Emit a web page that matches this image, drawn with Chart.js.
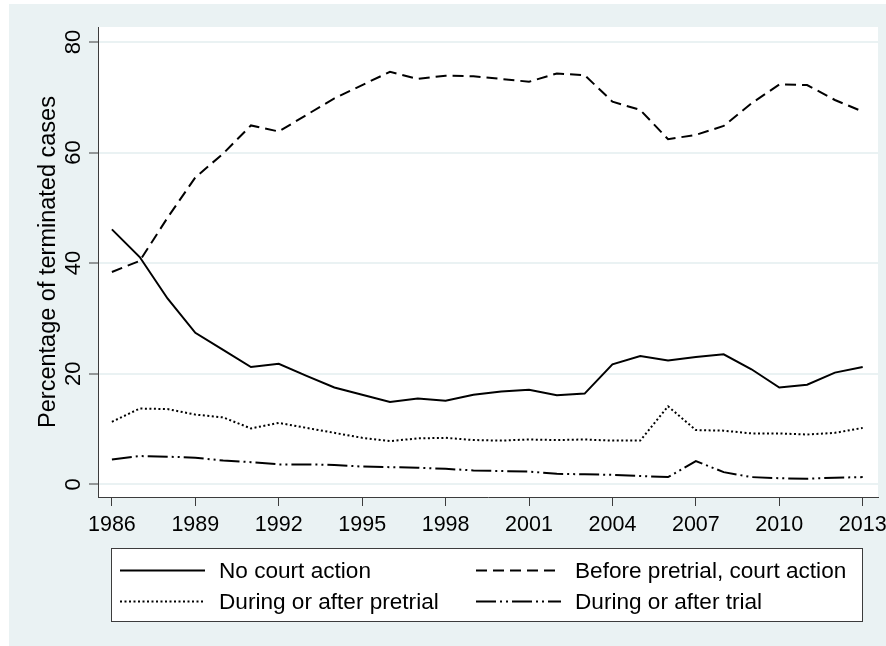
<!DOCTYPE html>
<html>
<head>
<meta charset="utf-8">
<script src="https://cdn.jsdelivr.net/npm/chart.js@4"></script>
<style>
  html, body { margin: 0; padding: 0; background: #fff; }
</style>
</head>
<body>
<canvas id="chart" width="886" height="646"></canvas>
<script>
const years = [1986, 1987, 1988, 1989, 1990, 1991, 1992, 1993, 1994, 1995, 1996, 1997, 1998, 1999,
               2000, 2001, 2002, 2003, 2004, 2005, 2006, 2007, 2008, 2009, 2010, 2011, 2012, 2013]
const noCourtAction = [46.1, 41.1, 33.6, 27.4, 24.3, 21.2, 21.8, 19.6, 17.5, 16.2, 14.9, 15.5, 15.1, 16.2,
                       16.8, 17.1, 16.1, 16.4, 21.7, 23.2, 22.4, 23.0, 23.5, 20.8, 17.5, 18.0, 20.2, 21.2]
const beforePretrial = [38.4, 40.4, 48.2, 55.5, 59.8, 64.9, 63.8, 66.8, 69.8, 72.2, 74.6, 73.3, 73.9, 73.8,
                        73.3, 72.8, 74.3, 74.0, 69.2, 67.7, 62.4, 63.2, 64.8, 68.9, 72.3, 72.2, 69.5, 67.4]
const duringPretrial = [11.3, 13.7, 13.6, 12.6, 12.1, 10.1, 11.1, 10.2, 9.3, 8.4, 7.8, 8.3, 8.4, 8.0,
                        7.9, 8.1, 8.0, 8.1, 7.9, 7.9, 14.1, 9.8, 9.7, 9.2, 9.2, 9.0, 9.3, 10.2]
const duringTrial = [4.5, 5.1, 5.0, 4.8, 4.3, 4.0, 3.6, 3.6, 3.5, 3.2, 3.1, 3.0, 2.8, 2.5,
                     2.4, 2.3, 1.9, 1.8, 1.7, 1.5, 1.3, 4.2, 2.2, 1.3, 1.1, 1.0, 1.2, 1.3]
const seriesNames = ['No court action', 'Before pretrial, court action', 'During or after pretrial', 'During or after trial']
const xTicks = [1986, 1989, 1992, 1995, 1998, 2001, 2004, 2007, 2010, 2013]
const yTicks = [0, 20, 40, 60, 80]
const yTitle = 'Percentage of terminated cases'

const bgColor = '#eaf2f3'
const axisColor = '#3c3c3c'
const fontFamily = '"Liberation Sans", Arial, Helvetica, sans-serif'

function points(values) {
    return years.map((yr, i) => ({ x: yr, y: values[i] }))
}

function makeDataset(label, values, dash) {
    return {
        label: label,
        data: points(values),
        borderColor: '#000',
        borderWidth: 2,
        borderDash: dash,
        borderCapStyle: 'butt',
        pointRadius: 0,
        tension: 0,
        fill: false
    }
}

// background, y labels, title and the boxed legend drawn stata-style
const stataFrame = {
    id: 'stataFrame',
    beforeDraw(chart) {
        const ctx = chart.ctx
        const a = chart.chartArea
        ctx.save()
        ctx.fillStyle = '#fff'
        ctx.fillRect(0, 0, chart.width, chart.height)
        ctx.fillStyle = bgColor
        ctx.fillRect(9, 4, chart.width - 9, chart.height - 4)
        ctx.fillStyle = '#fff'
        ctx.fillRect(a.left, a.top, a.right - a.left, a.bottom - a.top)
        ctx.restore()
    },
    afterDraw(chart) {
        const ctx = chart.ctx
        const yScale = chart.scales.y
        ctx.save()
        ctx.fillStyle = '#000'

        // rotated y tick labels
        ctx.font = '22px ' + fontFamily
        ctx.textAlign = 'center'
        ctx.textBaseline = 'alphabetic'
        yTicks.forEach(v => {
            ctx.save()
            ctx.translate(80, yScale.getPixelForValue(v))
            ctx.rotate(-Math.PI / 2)
            ctx.fillText(String(v), 0, 0)
            ctx.restore()
        })

        // y axis title
        ctx.font = '23.5px ' + fontFamily
        ctx.save()
        ctx.translate(55, (chart.chartArea.top + chart.chartArea.bottom) / 2)
        ctx.rotate(-Math.PI / 2)
        ctx.fillText(yTitle, 0, 0)
        ctx.restore()

        // legend box
        ctx.fillStyle = '#fff'
        ctx.fillRect(111, 548, 751, 74)
        ctx.strokeStyle = axisColor
        ctx.lineWidth = 1
        ctx.strokeRect(111.5, 548.5, 751, 73)

        const sampleX = [120, 476]
        const textX = [219, 575]
        const rowY = [570.5, 601.5]
        ctx.font = '22.6px ' + fontFamily
        ctx.textAlign = 'left'
        ctx.textBaseline = 'middle'
        chart.data.datasets.forEach((ds, i) => {
            const col = i % 2
            const row = Math.floor(i / 2)
            ctx.beginPath()
            ctx.setLineDash(ds.borderDash || [])
            ctx.lineWidth = ds.borderWidth
            ctx.strokeStyle = ds.borderColor
            ctx.moveTo(sampleX[col], rowY[row])
            ctx.lineTo(sampleX[col] + 85, rowY[row])
            ctx.stroke()
            ctx.setLineDash([])
            ctx.fillStyle = '#000'
            ctx.fillText(ds.label, textX[col], rowY[row] + 1)
        })
        ctx.restore()
    }
}

new Chart(document.getElementById('chart'), {
    type: 'line',
    data: {
        datasets: [
            makeDataset(seriesNames[0], noCourtAction, []),
            makeDataset(seriesNames[1], beforePretrial, [11, 6]),
            makeDataset(seriesNames[2], duringPretrial, [2, 2.5]),
            makeDataset(seriesNames[3], duringTrial, [20, 4, 2, 4, 2, 4])
        ]
    },
    options: {
        responsive: false,
        animation: false,
        devicePixelRatio: 1,
        layout: { padding: { top: 27, right: 8, left: 0, bottom: 0 } },
        plugins: {
            legend: { display: false },
            tooltip: { enabled: false }
        },
        scales: {
            x: {
                type: 'linear',
                min: 1985.5,
                max: 2013.55,
                afterBuildTicks: scale => { scale.ticks = xTicks.map(v => ({ value: v })) },
                afterFit: scale => {
                    scale.height = 149
                    scale.paddingLeft = 0
                    scale.paddingRight = 0
                },
                grid: {
                    drawOnChartArea: false,
                    drawTicks: true,
                    tickLength: 9,
                    tickColor: axisColor,
                    tickWidth: 1
                },
                border: { display: true, color: axisColor, width: 1 },
                ticks: {
                    callback: v => String(v),
                    color: '#000',
                    padding: 6,
                    maxRotation: 0,
                    autoSkip: false,
                    font: { size: 21.5, family: fontFamily }
                }
            },
            y: {
                min: -2.3,
                max: 82.7,
                afterBuildTicks: scale => { scale.ticks = yTicks.map(v => ({ value: v })) },
                afterFit: scale => {
                    scale.width = 98
                    scale.paddingTop = 0
                    scale.paddingBottom = 0
                },
                grid: {
                    color: bgColor,
                    lineWidth: 2,
                    drawTicks: true,
                    tickLength: 9,
                    tickColor: axisColor,
                    tickWidth: 1
                },
                border: { display: true, color: axisColor, width: 1 },
                ticks: { display: false }
            }
        }
    },
    plugins: [stataFrame]
})
</script>
</body>
</html>
